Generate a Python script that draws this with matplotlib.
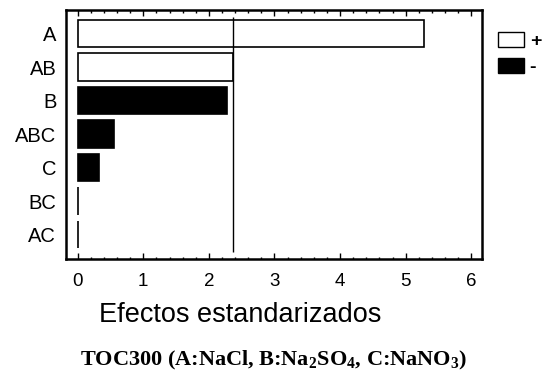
import matplotlib
matplotlib.use('Agg')
import matplotlib.pyplot as plt
from matplotlib.patches import Patch
from matplotlib.ticker import MultipleLocator

# Data
effects = ['A', 'AB', 'B', 'ABC', 'C', 'BC', 'AC']
values = [5.28, 2.365, 2.27, 0.55, 0.33, 0.01, 0.01]
signs = ['+', '+', '-', '-', '-', '+', '+']
critical = 2.365

plt.rcParams['font.family'] = 'Liberation Sans'
plt.rcParams['mathtext.fontset'] = 'custom'
plt.rcParams['mathtext.rm'] = 'Liberation Serif:bold'
plt.rcParams['mathtext.bf'] = 'Liberation Serif:bold'

fig = plt.figure(figsize=(5.42, 3.76), dpi=100)
ax = fig.add_axes([0.1218, 0.311, 0.767, 0.662])

ypos = list(range(len(effects)))
colors = ['white' if s == '+' else 'black' for s in signs]
ax.barh(ypos, values, height=0.82, color=colors, edgecolor='black', linewidth=1.2)
ax.vlines(critical, -0.5, 6.52, color='black', linewidth=1)

ax.set_xlim(-0.178, 6.16)
ax.set_ylim(6.73, -0.70)
ax.set_yticks(ypos)
ax.set_yticklabels(effects, fontsize=14.5)
ax.tick_params(axis='y', length=0, pad=7)

ax.xaxis.set_major_locator(MultipleLocator(1))
ax.xaxis.set_minor_locator(MultipleLocator(0.2))
ax.tick_params(axis='x', which='both', direction='in', top=True, bottom=True, width=1)
ax.tick_params(axis='x', which='major', length=4, pad=10, labelsize=13.5)
ax.tick_params(axis='x', which='minor', length=1.8)

for sp in ax.spines.values():
    sp.set_linewidth(1.8)

fig.text(0.443, 0.163, 'Efectos estandarizados', ha='center', va='center',
         fontsize=19.5)

fig.text(0.505, 0.04, r'TOC300 (A:NaCl, B:Na$_2$SO$_4$, C:NaNO$_3$)',
         ha='center', va='center', fontsize=16, family='Liberation Serif',
         fontweight='bold')

handles = [Patch(facecolor='white', edgecolor='black', linewidth=1, label='+'),
           Patch(facecolor='black', edgecolor='black', linewidth=1, label='-')]
fig.legend(handles=handles, loc='upper left', bbox_to_anchor=(0.918, 0.915),
           frameon=False, handlelength=1.35, handleheight=0.8,
           handletextpad=0.3, labelspacing=0.4, borderpad=0, borderaxespad=0,
           prop={'weight': 'bold', 'size': 14})

plt.savefig('out.png', dpi=100)
